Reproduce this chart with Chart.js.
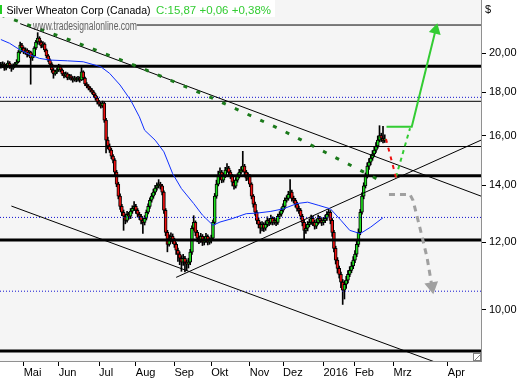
<!DOCTYPE html>
<html><head><meta charset="utf-8">
<script src="https://cdn.jsdelivr.net/npm/chart.js@4"></script>
<style>html,body{margin:0;padding:0;background:#fff;overflow:hidden}</style>
</head><body>
<canvas id="c" width="517" height="379"></canvas>
<script>
// ---------- DATA ----------
const monthLabels = ["Mai","Jun","Jul","Aug","Sep","Okt","Nov","Dez","2016","Feb","Mrz","Apr"];
const monthBars   = [13, 33, 56, 77, 99, 120, 142, 161, 184, 202, 224, 255];
const yTickValues = [10, 12, 14, 16, 18, 20];

const opens = [19.40,19.33,19.43,19.22,19.33,19.48,19.33,19.22,19.33,19.43,19.54,20.07,20.45,20.29,20.07,20.18,19.91,20.07,19.75,19.86,
20.29,20.62,20.84,20.62,20.40,20.51,20.18,19.86,19.64,19.43,19.12,18.92,19.02,19.12,19.33,19.12,18.92,18.82,18.92,18.71,
18.82,18.71,18.61,18.71,18.61,18.71,18.61,19.02,18.71,18.41,18.31,18.21,18.11,18.01,17.87,17.72,17.54,17.44,17.35,17.49,
16.70,15.82,15.57,15.40,15.15,14.99,14.51,14.05,13.60,13.23,13.02,12.88,12.74,12.95,12.88,13.06,13.16,13.23,13.09,12.95,
12.88,12.74,12.67,12.81,13.02,13.23,13.45,13.60,13.75,13.90,13.98,14.05,13.98,13.75,13.09,12.33,11.94,12.14,12.20,12.07,
11.94,11.75,11.63,11.50,11.38,11.50,11.38,11.32,11.38,11.69,12.47,12.67,12.33,12.14,12.07,12.20,12.01,12.07,12.20,12.01,
12.07,12.14,12.67,13.60,14.05,14.36,14.51,14.20,14.36,14.59,14.67,14.51,14.36,14.12,13.97,14.20,14.36,14.51,14.59,14.75,
14.51,14.28,14.36,14.05,13.60,13.31,13.02,12.74,12.60,12.47,12.60,12.47,12.60,12.74,12.67,12.81,12.67,12.74,12.67,12.88,
12.95,13.09,13.23,13.45,13.52,13.67,13.75,13.52,13.45,13.31,13.16,13.09,12.88,12.67,12.40,12.47,12.60,12.67,12.81,12.67,
12.54,12.67,12.81,12.74,12.67,12.74,12.81,12.95,13.02,12.74,12.33,11.81,11.44,11.19,11.01,10.78,10.55,10.72,10.84,11.01,
11.13,11.26,11.44,11.63,11.94,12.33,13.02,13.60,13.98,14.36,14.75,14.91,15.07,15.24,15.40,15.57,15.82,16.02,15.90,15.81];
const highs = [19.52,19.55,19.50,19.42,19.60,19.56,19.40,19.44,19.52,19.66,20.15,20.62,20.55,20.35,20.30,20.25,20.16,20.12,19.98,20.36,
20.72,21.15,20.92,20.70,20.64,20.58,20.24,19.94,19.70,19.50,19.20,19.12,19.22,19.42,19.38,19.18,19.00,19.02,18.98,18.90,
18.88,18.78,18.80,18.76,18.80,18.77,19.30,19.08,18.76,18.48,18.38,18.28,18.18,18.08,17.94,17.80,17.62,17.52,17.58,17.55,
16.78,15.95,15.66,15.48,15.22,15.05,14.58,14.12,13.68,13.30,13.10,12.96,13.05,13.02,13.15,13.25,13.40,13.30,13.15,13.02,
12.95,12.82,12.90,13.10,13.32,13.54,13.70,13.86,14.00,14.10,14.22,14.12,14.04,13.80,13.15,12.40,12.25,12.32,12.28,12.14,
12.00,11.82,11.70,11.58,11.62,11.56,11.45,11.50,11.78,12.55,12.90,12.72,12.40,12.22,12.30,12.26,12.18,12.30,12.25,12.16,
12.24,12.75,13.70,14.20,14.55,14.68,14.58,14.48,14.70,14.85,14.74,14.58,14.42,14.20,14.30,14.45,14.62,14.72,15.35,14.82,
14.58,14.48,14.42,14.10,13.66,13.38,13.08,12.82,12.68,12.70,12.66,12.72,12.86,12.80,12.92,12.86,12.84,12.80,12.96,13.04,
13.18,13.32,13.54,13.62,13.78,14.22,13.82,13.60,13.52,13.38,13.24,13.15,12.95,12.74,12.58,12.70,12.78,12.92,12.88,12.74,
12.78,12.92,12.88,12.80,12.84,12.92,13.04,13.12,13.08,12.80,12.40,11.88,11.52,11.26,11.08,10.86,10.82,10.95,11.12,11.24,
11.38,11.55,11.74,12.05,12.45,13.12,13.72,14.10,14.48,14.88,15.05,15.20,15.38,15.55,15.72,16.00,16.45,16.12,16.42,16.05];
const lows = [19.22,19.25,19.10,19.12,19.28,19.20,19.05,19.15,19.28,19.38,19.50,20.00,20.18,19.98,19.95,19.80,19.85,18.40,19.62,19.80,
20.22,20.50,20.48,20.30,20.32,20.08,19.76,19.55,19.30,19.00,18.70,18.85,18.95,19.05,19.02,18.84,18.72,18.76,18.62,18.64,
18.60,18.50,18.55,18.52,18.55,18.50,18.58,18.62,18.33,18.22,18.12,18.02,17.92,17.78,17.62,17.44,17.34,17.25,17.28,16.60,
15.28,15.45,15.30,15.05,14.88,14.40,13.95,13.50,13.12,12.90,12.40,12.62,12.68,12.78,12.80,12.98,13.08,12.98,12.85,12.76,
12.62,12.30,12.58,12.75,12.96,13.16,13.38,13.52,13.66,13.82,13.90,13.86,13.64,12.98,12.22,11.70,11.88,12.02,11.96,11.84,
11.62,11.40,11.30,11.10,11.28,11.08,11.12,11.20,11.30,11.62,12.40,12.22,12.02,11.96,12.00,11.90,11.92,12.00,11.92,11.94,
11.98,12.08,12.60,13.52,13.98,14.28,14.10,14.12,14.30,14.50,14.40,14.26,13.98,13.86,13.90,14.12,14.28,14.44,14.52,14.40,
14.18,14.20,13.95,13.50,13.20,12.92,12.62,12.48,12.30,12.38,12.36,12.40,12.52,12.56,12.60,12.58,12.60,12.56,12.60,12.80,
12.88,13.02,13.16,13.38,13.45,13.60,13.42,13.35,13.20,13.06,12.98,12.78,12.55,12.07,12.30,12.38,12.52,12.60,12.56,12.44,
12.46,12.60,12.64,12.56,12.58,12.66,12.74,12.88,12.62,12.20,11.70,11.32,11.05,10.90,10.62,10.15,10.30,10.60,10.76,10.94,
11.06,11.18,11.36,11.55,11.86,12.25,12.95,13.50,13.90,14.28,14.62,14.80,14.98,15.14,15.30,15.48,15.74,15.76,15.70,15.72];
const closes = [19.33,19.43,19.22,19.33,19.48,19.33,19.22,19.33,19.43,19.54,20.07,20.45,20.29,20.07,20.18,19.91,20.07,19.75,19.86,20.29,
20.62,20.84,20.62,20.40,20.51,20.18,19.86,19.64,19.43,19.12,18.92,19.02,19.12,19.33,19.12,18.92,18.82,18.92,18.71,18.82,
18.71,18.61,18.71,18.61,18.71,18.61,19.02,18.71,18.41,18.31,18.21,18.11,18.01,17.87,17.72,17.54,17.44,17.35,17.49,16.70,
15.82,15.57,15.40,15.15,14.99,14.51,14.05,13.60,13.23,13.02,12.88,12.74,12.95,12.88,13.06,13.16,13.23,13.09,12.95,12.88,
12.74,12.67,12.81,13.02,13.23,13.45,13.60,13.75,13.90,13.98,14.05,13.98,13.75,13.09,12.33,11.94,12.14,12.20,12.07,11.94,
11.75,11.63,11.50,11.38,11.50,11.38,11.32,11.38,11.69,12.47,12.67,12.33,12.14,12.07,12.20,12.01,12.07,12.20,12.01,12.07,
12.14,12.67,13.60,14.05,14.36,14.51,14.20,14.36,14.59,14.67,14.51,14.36,14.12,13.97,14.20,14.36,14.51,14.59,14.75,14.51,
14.28,14.36,14.05,13.60,13.31,13.02,12.74,12.60,12.47,12.60,12.47,12.60,12.74,12.67,12.81,12.67,12.74,12.67,12.88,12.95,
13.09,13.23,13.45,13.52,13.67,13.75,13.52,13.45,13.31,13.16,13.09,12.88,12.67,12.40,12.47,12.60,12.67,12.81,12.67,12.54,
12.67,12.81,12.74,12.67,12.74,12.81,12.95,13.02,12.74,12.33,11.81,11.44,11.19,11.01,10.78,10.55,10.72,10.84,11.01,11.13,
11.26,11.44,11.63,11.94,12.33,13.02,13.60,13.98,14.36,14.75,14.91,15.07,15.24,15.40,15.57,15.82,16.02,15.90,15.81,15.87];

// moving average (blue), read at sample bars
const maBars   = [0, 5, 11, 17, 22, 28, 38, 47, 57, 62, 68, 74, 79, 82, 88, 93, 98, 103, 110, 115, 121, 125, 132, 140, 146, 154, 161, 169, 175, 181, 188, 194, 199, 205, 211, 218];
const maValues = [20.76,20.55,20.18,19.91,19.73,19.64,19.60,19.55,19.29,18.95,18.36,17.63,16.85,16.25,15.82,15.33,14.45,13.88,13.33,12.92,12.57,12.68,12.80,12.97,12.99,13.05,13.14,13.33,13.38,13.27,13.14,12.74,12.40,12.29,12.51,12.83];

// horizontal levels: [value, startBar]
const levelsThick  = [[19.32, -0.5], [14.37, -0.5], [12.08, -0.5], [8.95, -0.5]];
const levelsThin   = [[21.59, 77.5], [17.57, -0.5], [15.55, -0.5]];
const levelsDotted = [[17.76, -0.5], [12.84, -0.5], [10.52, -0.5]];

// trend lines [barStart, valueStart, barEnd, valueEnd]
const trendUpper = [11, 21.67, 273.9, 13.60];
const trendRising = [100, 10.92, 273.9, 15.82];
const trendLower = [6, 13.24, 273.9, 8.30];
// dotted green trend (read at several bars)
const greenTrendBars = [0, 40, 80, 120, 160, 218];
const greenTrendVals = [22.18, 20.71, 19.23, 17.75, 16.27, 14.13];

// projections
const projUpBars = [220, 234.4, 248];   const projUpVals = [16.40, 16.40, 21.30];
const projGreenDashBars = [225.4, 233.4]; const projGreenDashVals = [14.32, 16.34];
const projRedBars = [219.7, 225.4];     const projRedVals = [15.87, 14.30];
const projGrayBars = [221.4, 233.4, 235.1, 239.1, 243.1, 245.9];
const projGrayVals = [13.66, 13.66, 13.45, 12.47, 11.53, 10.66];

const X_MIN = -0.5, X_MAX = 273.9, Y_MIN = 8.712, Y_MAX = 23.10;
const FONT = '"Liberation Sans", Arial, sans-serif';

// ---------- BUILD ----------
const pts = (xs, ys) => xs.map((x, i) => ({x, y: ys[i]}));
function hLine(lv, color, width, dash, order) {
  return {type:'line', data:[{x:lv[1],y:lv[0]},{x:X_MAX,y:lv[0]}], borderColor:color, borderWidth:width,
    borderDash:dash||[], pointRadius:0, fill:false, order};
}
function seg(a, color, width, dash, order) {
  return {type:'line', data:[{x:a[0],y:a[1]},{x:a[2],y:a[3]}], borderColor:color, borderWidth:width,
    borderDash:dash||[], pointRadius:0, fill:false, order};
}
const datasets = [];
datasets.push({type:'bar', data: closes.map((c,i)=>({x:i, y:[lows[i], highs[i]]})), backgroundColor:'#000',
  barThickness:1, grouped:false, order:20});
datasets.push({type:'bar', data: closes.map((c,i)=>({x:i, y:[opens[i], c]})),
  backgroundColor: closes.map((c,i)=> c >= opens[i] ? '#1ee01e' : '#ee1010'),
  borderColor:'#000', borderWidth:1, borderSkipped:false, barThickness:3, grouped:false, order:19});
levelsThick.forEach(v => datasets.push(hLine(v, '#000', 3, null, 8)));
levelsThin.forEach(v => datasets.push(hLine(v, '#000', 1, null, 8)));
levelsDotted.forEach(v => datasets.push(hLine(v, '#1010d0', 1, [1,2], 8)));
datasets.push(seg(trendUpper, '#000', 1, null, 7));
datasets.push(seg(trendRising, '#000', 1, null, 7));
datasets.push(seg(trendLower, '#000', 1, null, 7));
datasets.push({type:'line', data: pts(maBars, maValues), borderColor:'#1030ff', borderWidth:1, pointRadius:0, fill:false, order:6});
datasets.push({type:'line', data: pts(greenTrendBars, greenTrendVals), borderColor:'#1b7a1b', borderWidth:3,
  borderDash:[4,10], pointRadius:0, fill:false, order:5});
datasets.push({type:'line', data: pts(projRedBars, projRedVals), borderColor:'#ee1010', borderWidth:2, borderDash:[4,5], pointRadius:0, order:4});
datasets.push({type:'line', data: pts(projGreenDashBars, projGreenDashVals), borderColor:'#33cc33', borderWidth:2, borderDash:[4,4], pointRadius:0, order:4});
datasets.push({type:'line', data: pts(projUpBars, projUpVals), borderColor:'#33cc33', borderWidth:2, order:3,
  pointRadius:[0,0,5], pointStyle:'triangle', pointRotation:[0,0,14], pointBackgroundColor:'#33cc33', pointBorderColor:'#33cc33'});
datasets.push({type:'line', data: pts(projGrayBars, projGrayVals), borderColor:'#a0a0a0', borderWidth:3, borderDash:[6,5], order:3,
  pointRadius:[0,0,0,0,0,5], pointStyle:'triangle', pointRotation:[0,0,0,0,0,170], pointBackgroundColor:'#a0a0a0', pointBorderColor:'#a0a0a0'});

const bgPlugin = {
  id:'bg',
  beforeDraw(chart) {
    const {ctx, chartArea:a} = chart;
    ctx.save();
    ctx.fillStyle = '#fff'; ctx.fillRect(0,0,chart.width,chart.height);
    ctx.fillStyle = '#f5f5f5'; ctx.fillRect(a.left, a.top, a.right-a.left, a.bottom-a.top);
    ctx.restore();
  },
  afterDraw(chart) {
    const {ctx, chartArea:a} = chart;
    ctx.save();
    function fit(str, x, y, w, size, color) {
      ctx.font = size + 'px ' + FONT;
      const m = ctx.measureText(str).width;
      ctx.save();
      ctx.translate(x, y); ctx.scale(w / m, 1);
      ctx.fillStyle = color; ctx.textBaseline = 'alphabetic'; ctx.textAlign = 'left';
      ctx.fillText(str, 0, 0);
      ctx.restore();
    }
    // watermark
    ctx.globalAlpha = 0.8;
    fit('www.tradesignalonline.com', 33, 30, 104, 12.5, '#3a3a3a');
    ctx.globalAlpha = 1;
    // title box
    ctx.fillStyle = '#fff'; ctx.fillRect(0, 0, 275, 17);
    ctx.fillStyle = '#22cc22'; ctx.fillRect(0, 5, 2, 9);
    fit('Silver Wheaton Corp (Canada)', 6.5, 13.5, 144, 11.5, '#000');
    fit('C:15,87 +0,06 +0,38%', 156, 13.5, 115, 11.5, '#33cc33');
    // currency
    ctx.font = '11px ' + FONT; ctx.fillStyle = '#000'; ctx.textBaseline = 'middle'; ctx.textAlign = 'left';
    ctx.fillText('$', 485, 10);
    // corner icon
    ctx.strokeStyle = '#808080'; ctx.lineWidth = 1; ctx.fillStyle = '#fff';
    ctx.fillRect(a.right-7.5, a.bottom-7.5, 7, 7);
    ctx.strokeRect(a.right-7.5, a.bottom-7.5, 7, 7);
    ctx.beginPath(); ctx.moveTo(a.right-6, a.bottom-1); ctx.lineTo(a.right-1, a.bottom-6); ctx.stroke();
    ctx.restore();
  }
};

new Chart(document.getElementById('c'), {
  type:'line',
  data:{datasets},
  options:{
    responsive:false, animation:false, devicePixelRatio:1,
    layout:{padding:0, autoPadding:false},
    plugins:{legend:{display:false}, tooltip:{enabled:false}},
    elements:{line:{tension:0}},
    scales:{
      x:{type:'linear', min:X_MIN, max:X_MAX, offset:false,
        grid:{drawOnChartArea:false, drawTicks:true, tickLength:5, color:'#000', offset:false},
        border:{display:true, color:'#909090', width:1},
        afterBuildTicks:s=>{ s.ticks = monthBars.map(v=>({value:v})); },
        afterFit:s=>{ s.height = 18; s.paddingLeft = 0; s.paddingRight = 0; },
        ticks:{autoSkip:false, maxRotation:0, minRotation:0, align:'start', padding:0, color:'#000',
          font:{family:FONT, size:11},
          callback:(v)=>{ const k = monthBars.indexOf(v); return k>=0 ? monthLabels[k] : ''; }}
      },
      y:{type:'logarithmic', position:'right', min:Y_MIN, max:Y_MAX,
        grid:{drawOnChartArea:false, drawTicks:true, tickLength:5, color:'#000'},
        border:{display:true, color:'#909090', width:1},
        afterBuildTicks:s=>{ s.ticks = yTickValues.map(v=>({value:v})); },
        afterFit:s=>{ s.width = 36; s.paddingTop = 0; s.paddingBottom = 0; },
        ticks:{padding:3, color:'#000', font:{family:FONT, size:11},
          callback:(v)=> Number(v).toFixed(2).replace('.', ',')}
      }
    }
  },
  plugins:[bgPlugin]
});
</script>
</body></html>
